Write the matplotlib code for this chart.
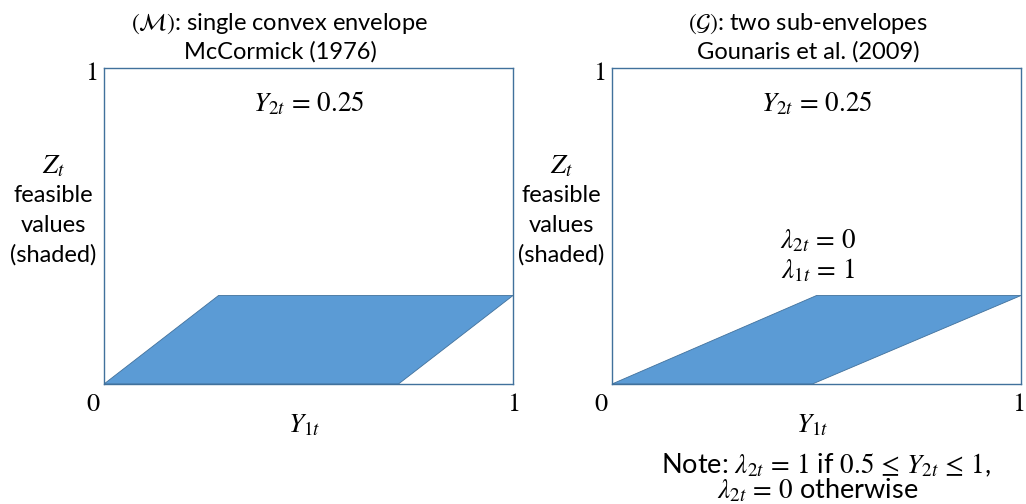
import numpy as np
import matplotlib.pyplot as plt
from matplotlib.patches import Polygon

plt.rcParams['font.family'] = ['Lato', 'DejaVu Sans']
plt.rcParams['mathtext.fontset'] = 'stix'

# feasible region corners (Y1t, Zt) for Y2t = 0.25
mc_y1 = [0.0, 0.28, 1.0, 0.72]
mc_z = [0.0, 0.28, 0.28, 0.0]
gn_y1 = [0.0, 0.50, 1.0, 0.49]
gn_z = [0.0, 0.28, 0.28, 0.0]

titles = [r'$(\mathcal{M})$: single convex envelope' + '\nMcCormick (1976)',
          r'$(\mathcal{G})$: two sub-envelopes' + '\nGounaris et al. (2009)']

fill_col = '#5b9bd5'
edge_col = '#41719c'

W, H = 1026, 504
fig = plt.figure(figsize=(W / 100, H / 100), dpi=100)

def px(x, y):
    return x / W, 1 - y / H

def txt(x, y, s, size=17, **kw):
    fx, fy = px(x, y)
    fig.text(fx, fy, s, ha='center', va='center', fontsize=size, **kw)

boxes = [(104, 513), (612, 1021)]
title_x = [280, 808]
top, bot = 68, 384
polys = [(mc_y1, mc_z), (gn_y1, gn_z)]

for (x0, x1), (xs, zs), title, tx in zip(boxes, polys, titles, title_x):
    ax = fig.add_axes([x0 / W, 1 - bot / H, (x1 - x0) / W, (bot - top) / H])
    ax.add_patch(Polygon(np.column_stack([xs, zs]), closed=True,
                         facecolor=fill_col, edgecolor=edge_col, lw=0.6))
    ax.set_xlim(0, 1)
    ax.set_ylim(0, 1)
    ax.set_xticks([])
    ax.set_yticks([])
    for sp in ax.spines.values():
        sp.set_color(edge_col)
        sp.set_linewidth(1.0)
    cx = (x0 + x1) / 2
    txt(tx, 37, title, size=17, linespacing=1.3)
    txt(x0 - 12, 74, '1', size=19, family='STIXGeneral')
    txt(x0 - 11, 405, '0', size=19, family='STIXGeneral')
    txt(min(x1 + 1, W - 7), 405, '1', size=19, family='STIXGeneral')
    txt(cx, 103, r'$Y_{2t}\,=\,0.25$', size=19.5)
    txt(cx - 4, 425, r'$Y_{1t}$', size=19.5)
    txt(x0 - 51, 166, r'$Z_t$', size=19.5)
    txt(x0 - 51, 195, 'feasible', size=17)
    txt(x0 - 51, 225, 'values', size=17)
    txt(x0 - 51, 255, '(shaded)', size=17)

txt(818, 241, r'$\lambda_{2t}\,=\,0$', size=19.5)
txt(818, 270, r'$\lambda_{1t}\,=\,1$', size=19.5)
txt(826, 465, r'Note: $\lambda_{2t}\,=\,1$ if $0.5\,\leq\,Y_{2t}\,\leq\,1$,', size=19.5)
txt(818, 490, r'$\lambda_{2t}\,=\,0$ otherwise', size=19.5)

fig.savefig('out.png', dpi=100)
